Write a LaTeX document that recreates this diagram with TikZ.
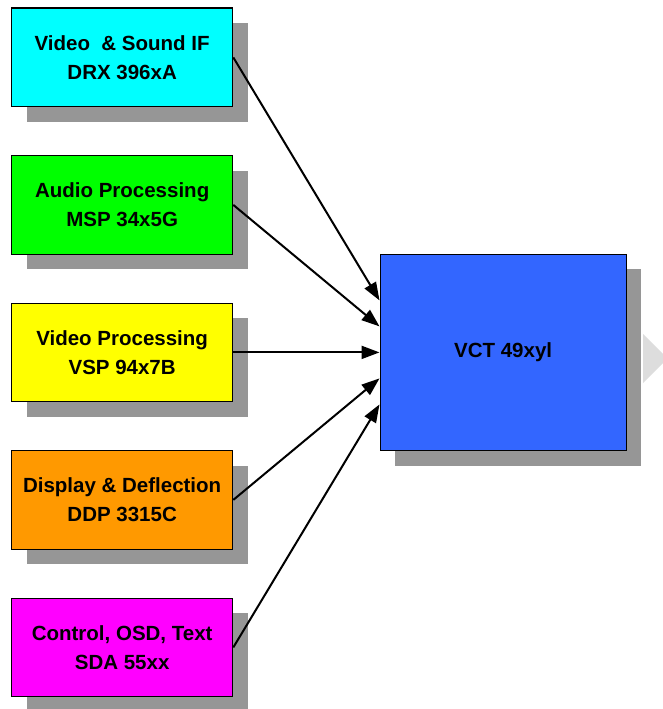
\documentclass[tikz,border=0pt]{standalone}
\usepackage{fontspec}
\setmainfont{Liberation Sans}
\usetikzlibrary{arrows.meta,shadows}
\definecolor{shadowgray}{HTML}{969696}
\definecolor{vctblue}{HTML}{3366FF}
\definecolor{cyanbox}{HTML}{00FFFF}
\definecolor{greenbox}{HTML}{00FF00}
\definecolor{yellowbox}{HTML}{FFFF00}
\definecolor{orng}{HTML}{FF9900}
\definecolor{magentabox}{HTML}{FF00FF}
\definecolor{lightarrow}{HTML}{DDDDDD}
\begin{document}
\begin{tikzpicture}[x=1pt,y=1pt,
  blk/.style={draw=black, line width=1.3pt, anchor=north west,
    minimum width=221pt, minimum height=98.5pt, inner sep=0pt,
    align=center, font=\fontsize{20.5}{29}\selectfont\bfseries,
    general shadow={fill=shadowgray, shadow xshift=15pt, shadow yshift=-15pt}},
  conn/.style={line width=2pt, -{Triangle[length=18pt,width=13pt]}}]
\path[use as bounding box, clip] (0,0) rectangle (663,-709);
\fill[lightarrow] (643,-334) -- (667.5,-358.5) -- (643,-383) -- cycle;
\node[blk, fill=cyanbox] (b1) at (11,-7.5) {Video\ \ \& Sound IF\\DRX 396xA};
\node[blk, fill=greenbox] (b2) at (11,-155) {Audio Processing\\MSP 34x5G};
\node[blk, fill=yellowbox] (b3) at (11,-302.5) {Video Processing\\VSP 94x7B};
\node[blk, fill=orng] (b4) at (11,-450) {Display \& Deflection\\DDP 3315C};
\node[blk, fill=magentabox] (b5) at (11,-597.5) {Control, OSD, Text\\SDA 55xx};
\node[blk, fill=vctblue, minimum width=246pt, minimum height=196.5pt] (vct) at (379.5,-253.5) {VCT 49xyl};
\draw[conn] (b1.east) -- ([yshift=52pt]vct.west);
\draw[conn] (b2.east) -- ([yshift=26pt]vct.west);
\draw[conn] (b3.east) -- (vct.west);
\draw[conn] (b4.east) -- ([yshift=-26pt]vct.west);
\draw[conn] (b5.east) -- ([yshift=-52pt]vct.west);
\end{tikzpicture}
\end{document}
